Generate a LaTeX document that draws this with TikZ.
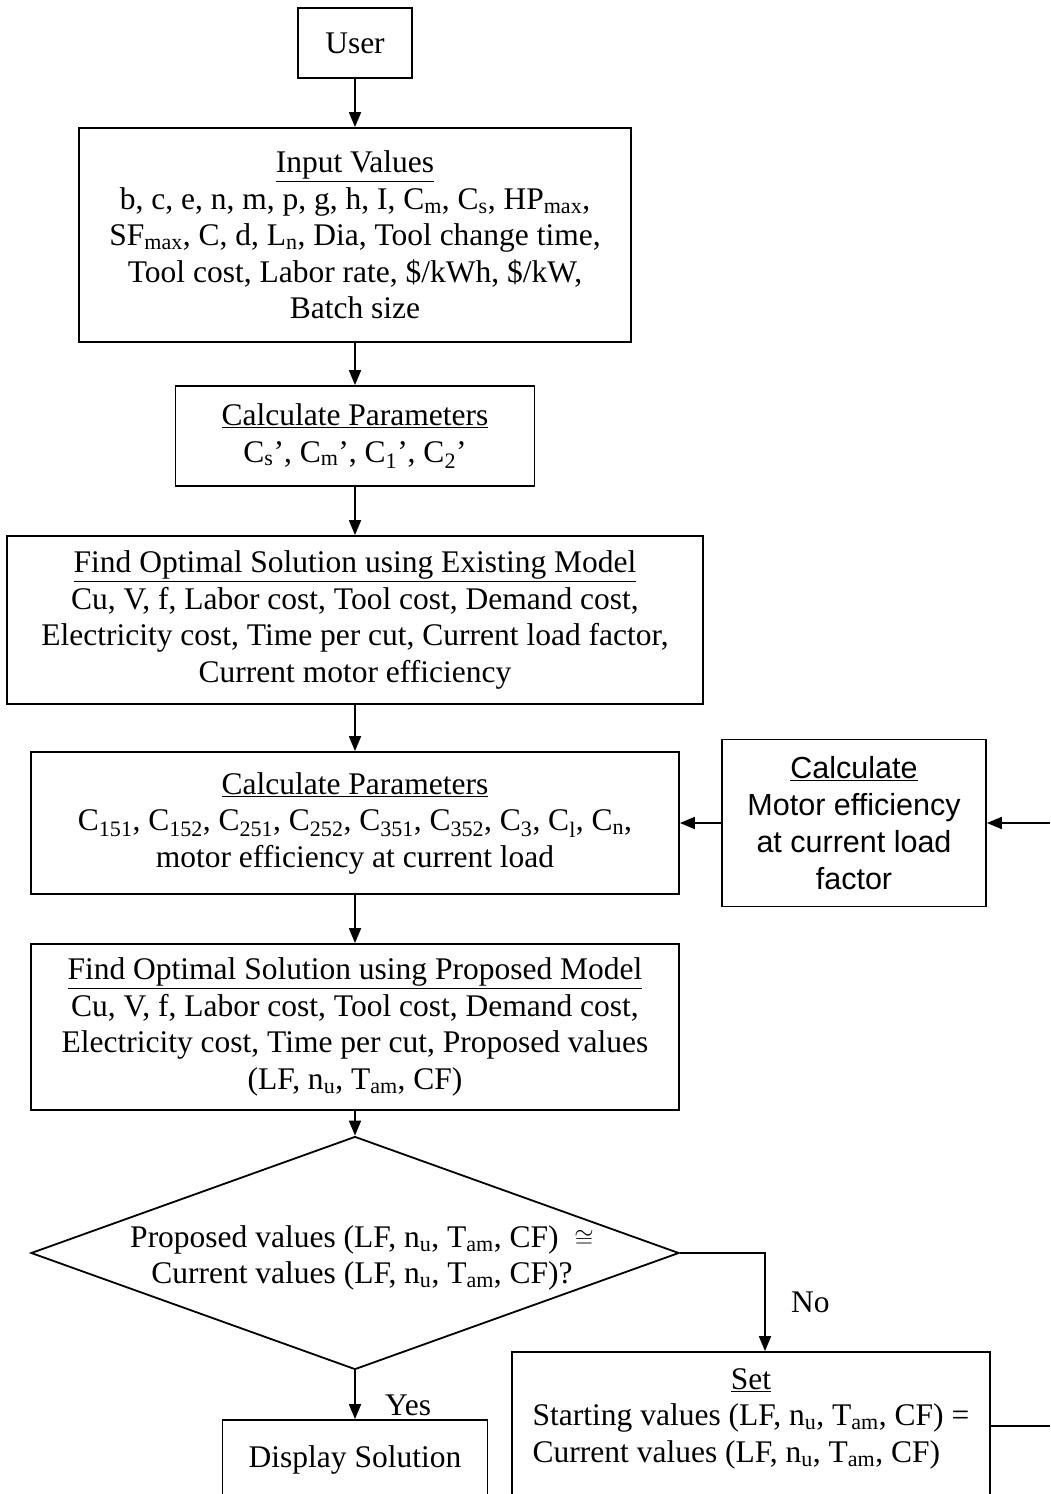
\documentclass[tikz,border=0pt]{standalone}
\usepackage{fontspec}
\setmainfont{Liberation Serif}
\newfontfamily\arialfont{Liberation Sans}
\usepackage{tikz}
\usetikzlibrary{shapes,arrows.meta,positioning,calc}

\newcommand{\subs}[1]{\textsubscript{#1}}

\begin{document}
\begin{tikzpicture}[x=1pt,y=-1pt,
    every node/.style={font=\fontsize{31.5}{36.5}\selectfont},
    box/.style={draw, line width=1.8pt, rectangle, align=center, inner sep=0pt},
    arr/.style={-{Triangle[length=15pt,width=12pt]}, line width=1.8pt}]
            % Frame
            \useasboundingbox (0,0) rectangle (1050,1494);
            \clip (0,0) rectangle (1050,1494);

            % Main column
            \node[box, minimum width=114, minimum height=70] (user) at (355,43) {User};
            \node[box, minimum width=552, minimum height=214] (input) at (355,235)
                {\underline{Input Values}\\
                 b, c, e, n, m, p, g, h, I, C\subs{m}, C\subs{s}, HP\subs{max},\\
                 SF\subs{max}, C, d, L\subs{n}, Dia, Tool change time,\\
                 Tool cost, Labor rate, \$/kWh, \$/kW,\\
                 Batch size};
            \node[box, minimum width=359, minimum height=100] (calcA) at (355,436)
                {\underline{Calculate Parameters}\\
                 C\subs{s}’, C\subs{m}’, C\subs{1}’, C\subs{2}’};
            \node[box, minimum width=696, minimum height=168] (exist) at (355,620)
                {\underline{Find Optimal Solution using Existing Model}\\
                 Cu, V, f, Labor cost, Tool cost, Demand cost,\\
                 Electricity cost, Time per cut, Current load factor,\\
                 Current motor efficiency};
            \node[box, minimum width=648, minimum height=142] (calcB) at (355,823)
                {\underline{Calculate Parameters}\\
                 C\subs{151}, C\subs{152}, C\subs{251}, C\subs{252}, C\subs{351}, C\subs{352}, C\subs{3}, C\subs{l}, C\subs{n},\\
                 motor efficiency at current load};
            \node[box, minimum width=648, minimum height=166] (prop) at (355,1027)
                {\underline{Find Optimal Solution using Proposed Model}\\
                 Cu, V, f, Labor cost, Tool cost, Demand cost,\\
                 Electricity cost, Time per cut, Proposed values\\
                 (LF, n\subs{u}, T\subs{am}, CF)};

            % Side box
            \node[box, minimum width=264, minimum height=167,
                  font=\arialfont\fontsize{30.5}{37}\selectfont] (motor) at (854,823)
                {\underline{Calculate}\\
                 Motor efficiency\\
                 at current load\\
                 factor};

            % Decision
            \node[draw, diamond, line width=1.8pt, inner sep=0pt,
                  minimum width=648, minimum height=233] (dec) at (355,1253) {};
            \node[align=center] (dectext) at (362,1258)
                {Proposed values (LF, n\subs{u}, T\subs{am}, CF) \ $\cong$\\
                 Current values (LF, n\subs{u}, T\subs{am}, CF)?};

            % Bottom boxes
            \node[box, minimum width=265, minimum height=80] (disp) at (355,1460)
                {Display Solution};
            \node[box, minimum width=478, minimum height=148] (set) at (751,1426)
                {\begin{tabular}{@{}l@{}}
                 \multicolumn{1}{@{}c@{}}{\underline{Set}}\\
                 Starting values (LF, n\subs{u}, T\subs{am}, CF) =\\
                 Current values (LF, n\subs{u}, T\subs{am}, CF)\\[15pt]
                 \end{tabular}};

            % Page edge
            \coordinate (edge) at (1050,0);

            % Arrows
            \draw[arr] (user) -- (input);
            \draw[arr] (input) -- (calcA);
            \draw[arr] (calcA) -- (exist);
            \draw[arr] (exist) -- (calcB);
            \draw[arr] (calcB) -- (prop);
            \draw[arr] (prop) -- (dec);
            \draw[arr] (motor) -- (calcB);
            \draw[arr] (motor.east -| edge) -- (motor.east);
            \draw[arr] (dec.east) -| ([xshift=14pt]set.north)
                node[pos=0.75, right=22pt] {No};
            \draw[arr] (dec.south) -- (disp.north)
                node[pos=0.72, right=26pt] {Yes};
            \draw[line width=1.8pt] (set.east) -- (set.east -| edge);
\end{tikzpicture}
\end{document}
